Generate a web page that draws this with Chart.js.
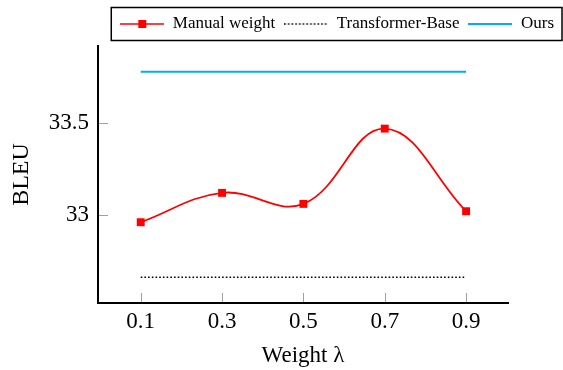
<!DOCTYPE html>
<html>
<head>
<meta charset="utf-8">
<script src="https://cdn.jsdelivr.net/npm/chart.js@4.4.1/dist/chart.umd.min.js"></script>
<style>
  html, body { margin: 0; padding: 0; background: #fff; }
  #wrap { width: 563px; height: 370px; position: relative; }
</style>
</head>
<body>
<div id="wrap"><canvas id="bleu_lambda"></canvas></div>
<script>
// values
const weights = [0.1, 0.3, 0.5, 0.7, 0.9];
const manualWeight = [32.96, 33.12, 33.06, 33.47, 33.02];
const transformerBase = [32.66, 32.66, 32.66, 32.66, 32.66];
const ours = [33.78, 33.78, 33.78, 33.78, 33.78];
const xTicks = [0.1, 0.3, 0.5, 0.7, 0.9];
const yTicks = [33, 33.5];

const RED = '#ff0000';
const CYAN = '#00aeef';

function toPoints(ys) {
  return weights.map((w, i) => ({ x: w, y: ys[i] }));
}

// little line samples for the legend
function sample(kind) {
  const c = document.createElement('canvas');
  c.width = 44; c.height = 12;
  const g = c.getContext('2d');
  g.beginPath();
  g.moveTo(0, 6); g.lineTo(44, 6);
  if (kind === 'manual') {
    g.strokeStyle = RED; g.lineWidth = 1.6; g.stroke();
    g.fillStyle = RED; g.fillRect(18, 2, 8, 8);
  } else if (kind === 'dotted') {
    g.strokeStyle = '#000'; g.lineWidth = 1.5;
    g.setLineDash([1.6, 2.1]); g.stroke();
  } else {
    g.strokeStyle = CYAN; g.lineWidth = 2; g.stroke();
  }
  return c;
}
const legendSamples = [sample('manual'), sample('dotted'), sample('ours')];

// box around the legend + inner tick marks
const extras = {
  id: 'extras',
  afterDraw(chart) {
    const ctx = chart.ctx;
    const lg = chart.legend;
    if (lg && lg.legendHitBoxes.length) {
      const hb = lg.legendHitBoxes;
      const l = hb[0].left - 9;
      const r = Math.min(hb[hb.length - 1].left + hb[hb.length - 1].width + 9, chart.width - 1);
      const cy = hb[0].top + hb[0].height / 2;
      ctx.save();
      ctx.strokeStyle = '#000';
      ctx.lineWidth = 1.5;
      ctx.strokeRect(l, cy - 16.5, r - l, 33);
      ctx.restore();
    }
    const xs = chart.scales.x, ys = chart.scales.y, a = chart.chartArea;
    ctx.save();
    ctx.strokeStyle = '#a0a0a0';
    ctx.lineWidth = 1;
    ctx.beginPath();
    xTicks.forEach(v => {
      const px = Math.round(xs.getPixelForValue(v)) + 0.5;
      ctx.moveTo(px, a.bottom - 1); ctx.lineTo(px, a.bottom - 10);
    });
    yTicks.forEach(v => {
      const py = Math.round(ys.getPixelForValue(v)) + 0.5;
      ctx.moveTo(a.left + 1, py); ctx.lineTo(a.left + 10, py);
    });
    ctx.stroke();
    ctx.restore();
  }
};

Chart.defaults.color = '#000';
Chart.defaults.font.family = '"Liberation Serif", "DejaVu Serif", serif';

const ctx = document.getElementById('bleu_lambda').getContext('2d');
const bleuChart = new Chart(ctx, {
  type: 'line',
  data: {
    datasets: [{
      label: 'Manual weight',
      data: toPoints(manualWeight),
      borderColor: RED,
      backgroundColor: RED,
      borderWidth: 1.8,
      tension: 0.4,
      pointStyle: 'rect',
      pointRadius: 5.6,
      pointBorderWidth: 0,
      pointBackgroundColor: RED
    }, {
      label: 'Transformer-Base',
      data: toPoints(transformerBase),
      borderColor: '#000',
      borderWidth: 1.5,
      borderDash: [1.6, 2.1],
      pointRadius: 0
    }, {
      label: 'Ours',
      data: toPoints(ours),
      borderColor: CYAN,
      borderWidth: 2,
      pointRadius: 0
    }]
  },
  options: {
    responsive: true,
    maintainAspectRatio: false,
    animation: false,
    layout: { padding: { top: 6.5, left: 0, right: 0, bottom: 0 } },
    scales: {
      x: {
        type: 'linear',
        min: -0.005,
        max: 1.003,
        afterBuildTicks: s => { s.ticks = xTicks.map(v => ({ value: v })); },
        afterFit: s => { s.height = 67; },
        grid: { drawOnChartArea: false, drawTicks: false },
        border: { color: '#000', width: 2 },
        ticks: {
          padding: 5,
          font: { size: 23 },
          callback: v => v.toFixed(1)
        },
        title: {
          display: true,
          text: 'Weight λ',
          font: { size: 23 },
          padding: { top: 0, bottom: 0 }
        }
      },
      y: {
        min: 32.52,
        max: 33.92,
        afterBuildTicks: s => { s.ticks = yTicks.map(v => ({ value: v })); },
        afterFit: s => { s.width = 98; },
        grid: { drawOnChartArea: false, drawTicks: false },
        border: { color: '#000', width: 2 },
        ticks: {
          padding: 9,
          font: { size: 23 },
          callback: v => String(v)
        },
        title: {
          display: true,
          text: 'BLEU',
          font: { size: 24 },
          padding: { top: 7, bottom: 0 }
        }
      },
      // empty right side, keeps the plot narrower than the legend
      spacer: {
        type: 'linear',
        position: 'right',
        display: true,
        afterFit: s => { s.width = 55; },
        grid: { display: false },
        border: { display: false },
        ticks: { display: false }
      },
      // small gap between legend and plot
      gap: {
        type: 'linear',
        axis: 'x',
        position: 'top',
        display: true,
        afterFit: s => { s.height = 3.5; },
        grid: { display: false },
        border: { display: false },
        ticks: { display: false }
      }
    },
    plugins: {
      tooltip: { enabled: false },
      legend: {
        display: true,
        position: 'top',
        align: 'end',
        labels: {
          usePointStyle: true,
          pointStyleWidth: 44,
          padding: 9,
          color: '#000',
          font: { size: 17 },
          generateLabels: chart => chart.data.datasets.map((d, i) => ({
            text: d.label,
            datasetIndex: i,
            pointStyle: legendSamples[i],
            fillStyle: 'transparent',
            strokeStyle: 'transparent',
            lineWidth: 0,
            fontColor: '#000',
            hidden: false
          }))
        }
      }
    }
  },
  plugins: [extras]
});
</script>
</body>
</html>
